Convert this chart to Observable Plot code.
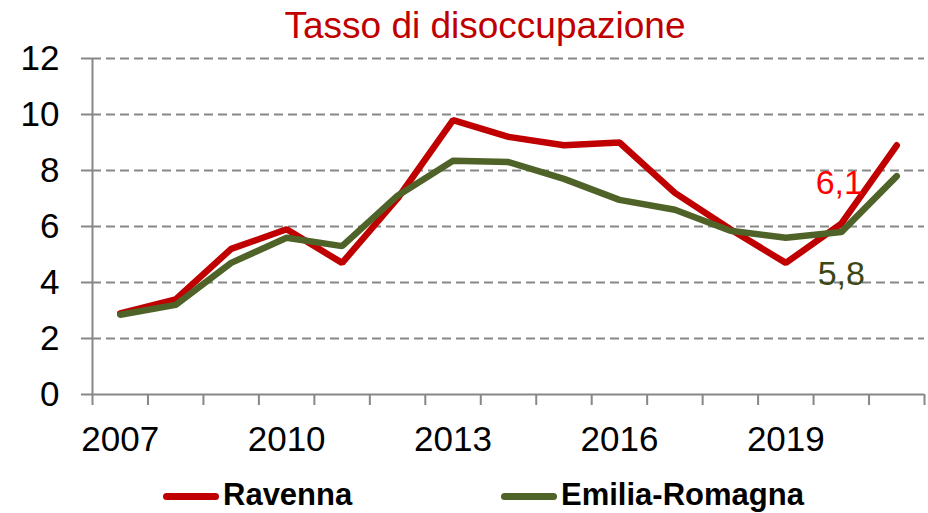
<!DOCTYPE html>
<html>
<head>
<meta charset="utf-8">
<script src="https://cdn.jsdelivr.net/npm/d3@7"></script>
<script src="https://cdn.jsdelivr.net/npm/@observablehq/plot@0.6"></script>
<style>
html, body { margin: 0; padding: 0; background: #fff; overflow: hidden; }
body { width: 928px; height: 513px; font-family: "Liberation Sans", Arial, sans-serif; }
#title { height: 52px; line-height: 52px; box-sizing: border-box; padding-left: 42px; width: 928px;
  text-align: center; font-size: 37px; color: #C00000; white-space: nowrap; }
#chart svg { display: block; }
#legend { position: relative; height: 45px; width: 928px; }
.sw { position: absolute; height: 7px; border-radius: 3.5px; top: 24.5px; width: 56px; }
.lt { position: absolute; top: 11px; font-size: 31px; line-height: 31px; font-weight: bold; color: #000; white-space: nowrap; }
</style>
</head>
<body>
<div id="title"></div>
<div id="chart"></div>
<div id="legend"></div>
<script>
const titleText = "Tasso di disoccupazione";
const years = [2007, 2008, 2009, 2010, 2011, 2012, 2013, 2014, 2015, 2016, 2017, 2018, 2019, 2020, 2021];
const ravenna = [2.9, 3.4, 5.2, 5.9, 4.7, 7.0, 9.8, 9.2, 8.9, 9.0, 7.2, 5.9, 4.7, 6.1, 8.9];
const emiliaRomagna = [2.85, 3.2, 4.7, 5.6, 5.3, 7.1, 8.35, 8.3, 7.7, 6.95, 6.6, 5.85, 5.6, 5.8, 7.8];
const seriesNames = ["Ravenna", "Emilia-Romagna"];
const seriesColors = ["#C00000", "#4F6228"];
const labelColors = ["#FF0000", "#3D4714"];
const yTicks = [0, 2, 4, 6, 8, 10, 12];
const xTickLabels = [2007, 2010, 2013, 2016, 2019];
const labelYear = 2020;

document.getElementById("title").textContent = titleText;

const seriesValues = [ravenna, emiliaRomagna];
const data = [];
seriesNames.forEach((name, s) => {
  years.forEach((yr, i) => data.push({year: yr, value: seriesValues[s][i], series: name}));
});
const boundaries = years.map(y => y - 0.5).concat([years[years.length - 1] + 0.5]);
const gridVals = yTicks.filter(v => v > 0);
const grey = "#878787";
const fmt = v => v.toFixed(1).replace(".", ",");
const li = years.indexOf(labelYear);

const chart = Plot.plot({
  width: 928,
  height: 416,
  marginTop: 6,
  marginBottom: 74,
  marginLeft: 92,
  marginRight: 4,
  style: {fontFamily: '"Liberation Sans", Arial, sans-serif', overflow: "visible", background: "transparent"},
  x: {domain: [boundaries[0], boundaries[boundaries.length - 1]], axis: null, label: null},
  y: {domain: [0, 12], axis: null, label: null},
  color: {domain: seriesNames, range: seriesColors},
  marks: [
    Plot.ruleY(gridVals, {stroke: grey, strokeWidth: 2, strokeDasharray: "9,5"}),
    Plot.ruleY([0], {stroke: grey, strokeWidth: 2}),
    Plot.ruleX([boundaries[0]], {stroke: grey, strokeWidth: 2}),
    Plot.axisY(yTicks, {tickSize: 11, tickPadding: 22, stroke: grey, strokeWidth: 2, fill: "#000", fontSize: 35, label: null, tickFormat: d => String(d)}),
    Plot.axisX(boundaries, {tickSize: 11, stroke: grey, strokeWidth: 2, tickFormat: () => "", label: null}),
    Plot.axisX(xTickLabels, {tickSize: 0, tickPadding: 32, fill: "#000", fontSize: 35, label: null, tickFormat: d => String(d)}),
    Plot.line(data, {x: "year", y: "value", z: "series", stroke: "series", strokeWidth: 6.5, strokeLinecap: "round", strokeLinejoin: "miter"}),
    Plot.text([{year: labelYear, value: ravenna[li]}], {x: "year", y: "value", text: d => fmt(d.value), fill: labelColors[0], fontSize: 34, dx: -2, dy: -41}),
    Plot.text([{year: labelYear, value: emiliaRomagna[li]}], {x: "year", y: "value", text: d => fmt(d.value), fill: labelColors[1], fontSize: 34, dx: 0, dy: 42})
  ]
});
document.getElementById("chart").appendChild(chart);

const legend = document.getElementById("legend");
const swLeft = [163, 501];
seriesNames.forEach((name, i) => {
  const sw = document.createElement("div");
  sw.className = "sw";
  sw.style.left = swLeft[i] + "px";
  sw.style.background = seriesColors[i];
  legend.appendChild(sw);
  const t = document.createElement("span");
  t.className = "lt";
  t.style.left = (swLeft[i] + 60) + "px";
  t.textContent = name;
  legend.appendChild(t);
});
</script>
</body>
</html>
